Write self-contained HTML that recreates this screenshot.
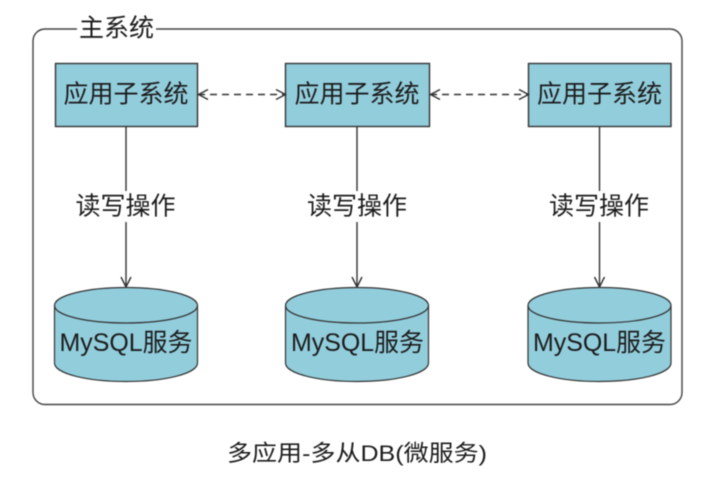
<!DOCTYPE html>
<html><head><meta charset="utf-8">
<style>
html,body{margin:0;padding:0;background:#fff;width:706px;height:477px;overflow:hidden}
svg{display:block;filter:blur(.45px)}
text{font-family:"Liberation Sans","Noto Sans CJK SC",sans-serif;fill:#1c1c1c;text-anchor:middle}
.cjk{font-family:"Noto Sans CJK SC","Liberation Sans",sans-serif}
</style></head><body>
<svg width="706" height="477" viewBox="0 0 706 477" xmlns="http://www.w3.org/2000/svg">
<defs>
<g id="cyl">
<path d="M0 305.5V363C0 373.5 32 381.5 71.5 381.5S143 373.500 143 363V305.5C143 295.5 111 287.5 71.5 287.5S0 295.5 0 305.5Z" fill="#92cddc" stroke="#333" stroke-width="1.200"/>
<path d="M0 305.5C0 315.5 32 323 71.5 323S143 315.5 143 305.5" fill="none" stroke="#333" stroke-width="1.200"/>
</g>
</defs>
<rect x="33" y="29" width="649" height="375.5" rx="12" fill="#fff" stroke="#444" stroke-width="1.400"/>
<rect x="77" y="14" width="79" height="28" fill="#fff"/>
<text class="cjk" x="116.500" y="36.500" font-size="25">主系统</text>

<rect x="55.500" y="63.500" width="142" height="63" fill="#92cddc" stroke="#333" stroke-width="1.400"/>
<rect x="285.500" y="63.500" width="144" height="63" fill="#92cddc" stroke="#333" stroke-width="1.400"/>
<rect x="528.500" y="63.500" width="142.500" height="63" fill="#92cddc" stroke="#333" stroke-width="1.400"/>
<text class="cjk" x="126" y="102.500" font-size="25">应用子系统</text>
<text class="cjk" x="357" y="102.500" font-size="25">应用子系统</text>
<text class="cjk" x="599.500" y="102.500" font-size="25">应用子系统</text>

<g fill="none" stroke="#333" stroke-width="1.400">
<path d="M198 94.500H285" stroke-dasharray="7 5"/>
<path d="M208 89.500L198.500 94.500L208 99.500M276 89.500L285.500 94.500L276 99.500"/>
<path d="M430 94.500H528" stroke-dasharray="7 5"/>
<path d="M440 89.500L430.500 94.500L440 99.500M519 89.500L528.500 94.500L519 99.500"/>
<path d="M126 126V191M126 222V287M121 277L126 287L131 277"/>
<path d="M357 126V191M357 222V287M352 277L357 287L362 277"/>
<path d="M599.500 126V191M599.500 222V287M594.500 277L599.500 287L604.500 277"/>
</g>
<text class="cjk" x="125.500" y="214.500" font-size="25">读写操作</text>
<text class="cjk" x="357" y="214.500" font-size="25">读写操作</text>
<text class="cjk" x="599" y="214.500" font-size="25">读写操作</text>

<use href="#cyl" x="54.500"/>
<use href="#cyl" x="285.500"/>
<use href="#cyl" x="528"/>
<text x="126" y="351" font-size="25" textLength="133" lengthAdjust="spacingAndGlyphs">MySQL服务</text>
<text x="357.500" y="351" font-size="25" textLength="133" lengthAdjust="spacingAndGlyphs">MySQL服务</text>
<text x="599.500" y="351" font-size="25" textLength="133" lengthAdjust="spacingAndGlyphs">MySQL服务</text>

<text x="357" y="461" font-size="22.500" textLength="260" lengthAdjust="spacingAndGlyphs" fill="#333">多应用-多从DB(微服务)</text>
</svg>
</body></html>
